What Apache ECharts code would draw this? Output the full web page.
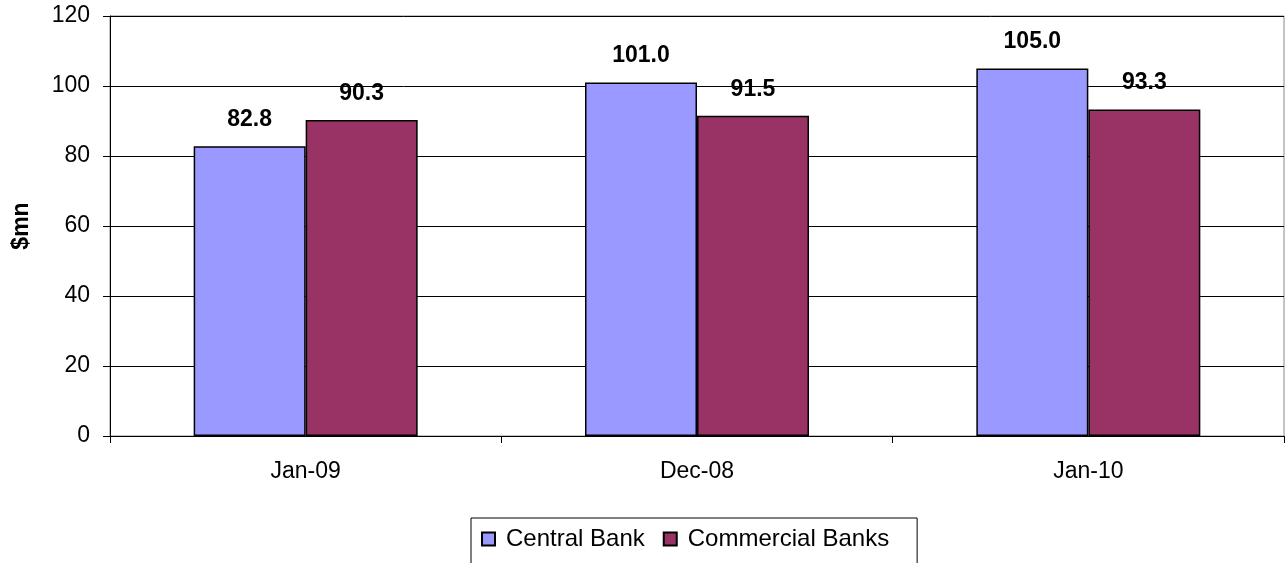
<!DOCTYPE html>
<html><head><meta charset="utf-8">
<script src="https://cdn.jsdelivr.net/npm/echarts@6/dist/echarts.min.js"></script>
<style>html,body{margin:0;padding:0;background:#fff}#c{width:1285px;height:563px}</style>
</head><body><div id="c"></div>
<script>
const categories = ['Jan-09', 'Dec-08', 'Jan-10'];
const centralBank = [82.8, 101.0, 105.0];
const commercialBanks = [90.3, 91.5, 93.3];
const seriesNames = ['Central Bank', 'Commercial Banks'];
const yTicks = {min: 0, max: 120, interval: 20};

const chart = echarts.init(document.getElementById('c'));
const font = 'Liberation Sans, Arial, sans-serif';
const label = {show: true, position: 'top', distance: 15, fontFamily: font, fontSize: 23, fontWeight: 'bold', color: '#000', formatter: p => p.value.toFixed(1)};
chart.setOption({
  animation: false,
  textStyle: {fontFamily: font},
  grid: {left: 110, right: 1, top: 16, bottom: 127, show: true, borderColor: '#888', borderWidth: 1, backgroundColor: 'transparent'},
  legend: {
    left: 471, top: 518,
    padding: [9, 28, 30, 10],
    borderColor: '#000', borderWidth: 1,
    icon: 'rect',
    itemWidth: 13, itemHeight: 13, itemGap: 18,
    textStyle: {fontFamily: font, fontSize: 24, color: '#000', padding: [0, 0, 0, 6]},
    data: seriesNames
  },
  xAxis: {
    type: 'category', data: categories,
    axisLine: {lineStyle: {color: '#000'}},
    axisTick: {show: true, length: 7, lineStyle: {color: '#000'}},
    axisLabel: {fontFamily: font, fontSize: 23, color: '#000', margin: 24}
  },
  yAxis: {
    type: 'value', min: yTicks.min, max: yTicks.max, interval: yTicks.interval,
    name: '$mn', nameLocation: 'middle', nameGap: 77, nameRotate: 90,
    nameTextStyle: {fontFamily: font, fontSize: 23, fontWeight: 'bold', color: '#000'},
    axisLine: {show: true, lineStyle: {color: '#000'}},
    axisTick: {show: true, length: 7, lineStyle: {color: '#000'}},
    axisLabel: {fontFamily: font, fontSize: 23, color: '#000', margin: 20},
    splitLine: {lineStyle: {color: '#000', width: 1}}
  },
  series: [
    {name: seriesNames[0], type: 'bar', data: centralBank, barWidth: 112, barGap: '0%',
     itemStyle: {color: '#9999FF', borderColor: '#000', borderWidth: 1.5}, label: label},
    {name: seriesNames[1], type: 'bar', data: commercialBanks, barWidth: 112, barGap: '0%',
     itemStyle: {color: '#993366', borderColor: '#000', borderWidth: 1.5}, label: label}
  ]
});
</script></body></html>
